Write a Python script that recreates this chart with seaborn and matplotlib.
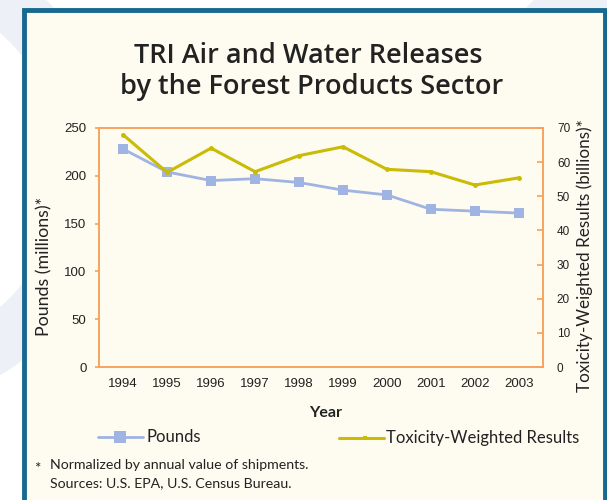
import matplotlib
matplotlib.use("Agg")
import matplotlib.pyplot as plt
import seaborn as sns
import pandas as pd
from matplotlib.patches import Rectangle, Ellipse
from matplotlib.lines import Line2D

years = [1994, 1995, 1996, 1997, 1998, 1999, 2000, 2001, 2002, 2003]
pounds = [228, 204, 195, 197, 193, 185, 180, 165, 163, 161]
toxicity = [68.0, 57.0, 64.1, 57.2, 61.9, 64.5, 57.9, 57.2, 53.3, 55.4]
left_ticks = [0, 50, 100, 150, 200, 250]
right_ticks = [0, 10, 20, 30, 40, 50, 60, 70]

sns.set_theme(style="white")
plt.rcParams['font.family'] = ['Lato', 'DejaVu Sans']

W, H = 607, 500
fig = plt.figure(figsize=(W / 100, H / 100), dpi=100)
fig.patch.set_facecolor('white')

# faint background shapes
bg = fig.add_axes([0, 0, 1, 1], zorder=-10)
bg.set_xlim(0, W); bg.set_ylim(H, 0); bg.axis('off')
bg.add_patch(Ellipse((-120, 170), 420, 420, fill=False, lw=40, ec='#eef0f7'))
bg.add_patch(Ellipse((700, 170), 420, 420, fill=False, lw=40, ec='#eef0f7'))
# panel
bg.add_patch(Rectangle((23.5, 9.5), 581, 500, fc='#fefbf0', ec='#17698f', lw=3.5))

df = pd.DataFrame({'Year': years, 'Pounds': pounds, 'Tox': toxicity})

ax = fig.add_axes([99 / W, 1 - 367 / H, 444 / W, 239 / H])
ax.set_facecolor('none')
ax2 = ax.twinx()
ax2.set_facecolor('none')

blue = '#9fb4e2'
yel = '#c9bb06'
orange = '#f6a45c'
txt = '#222222'

sns.lineplot(data=df, x='Year', y='Pounds', ax=ax, color=blue, lw=2.0,
             marker='s', markersize=6.5, markeredgewidth=0, legend=False)
sns.lineplot(data=df, x='Year', y='Tox', ax=ax2, color=yel, lw=2.2,
             marker='o', markersize=3.5, markeredgewidth=0, legend=False)

ax.set_xlim(1993.45, 2003.55)
ax.set_ylim(0, 250)
ax2.set_ylim(0, 70)
ax.set_yticks(left_ticks)
ax2.set_yticks(right_ticks)
ax.set_xticks(years)

tickfont = dict(family='Liberation Sans', size=9.5, color=txt)
ax.set_xticklabels([str(y) for y in years], fontdict=tickfont)
ax.set_yticklabels([str(t) for t in left_ticks], fontdict=tickfont)
ax2.set_yticklabels([str(t) for t in right_ticks], fontdict=dict(family='Liberation Sans', size=8.5, color=txt))

for a in (ax, ax2):
    for s in a.spines.values():
        s.set_color(orange)
        s.set_linewidth(1.2)
ax.tick_params(axis='y', which='major', direction='out', length=3, color=orange, pad=6, left=True)
ax.tick_params(axis='x', which='major', length=0, pad=8)
ax2.tick_params(axis='y', which='major', direction='in', length=4, color=orange, pad=10, right=True)

ax.set_xlabel('Year', fontsize=11.5, fontweight='bold', color=txt)
ax.xaxis.set_label_coords((326 - 99) / 444, -(413 - 367) / 239)
ax.xaxis.label.set_va('center')
ax.set_ylabel('Pounds (millions)*', fontsize=12.8, color=txt)
ax.yaxis.set_label_coords(-(99 - 44) / 444, (367 - 266) / 239)
ax.yaxis.label.set_va('center')
ax2.set_ylabel('Toxicity-Weighted Results (billions)*', fontsize=12.3, color=txt)
ax2.yaxis.set_label_coords(1 + (585 - 543) / 444, (367 - 256) / 239)
ax2.yaxis.label.set_va('center')

title_kw = dict(ha='center', va='baseline', fontsize=19.5, fontweight='semibold',
                color=txt, family=['Open Sans', 'DejaVu Sans'])
fig.text(308 / W, 1 - 63 / H, 'TRI Air and Water Releases', **title_kw)
fig.text(312 / W, 1 - 94 / H, 'by the Forest Products Sector', **title_kw)

# legend
bg.add_line(Line2D([98, 143], [436.5, 436.5], color=blue, lw=2.0))
bg.add_line(Line2D([120], [436.5], color=blue, marker='s', markersize=8, markeredgewidth=0))
bg.text(146, 437, 'Pounds', va='center', ha='left', fontsize=12, color=txt)
bg.add_line(Line2D([339, 384], [437.5, 437.5], color=yel, lw=2.2))
bg.add_line(Line2D([365], [437.5], color=yel, marker='s', markersize=3.5, markeredgewidth=0))
bg.text(386, 438, 'Toxicity-Weighted Results', va='center', ha='left', fontsize=12, color=txt)

bg.text(37, 469, '*', va='center', ha='center', fontsize=11, color=txt)
bg.text(50, 465, 'Normalized by annual value of shipments.', va='center', ha='left', fontsize=10.2, color=txt)
bg.text(50, 483, 'Sources: U.S. EPA, U.S. Census Bureau.', va='center', ha='left', fontsize=10.2, color=txt)

fig.savefig('out.png', dpi=100)
